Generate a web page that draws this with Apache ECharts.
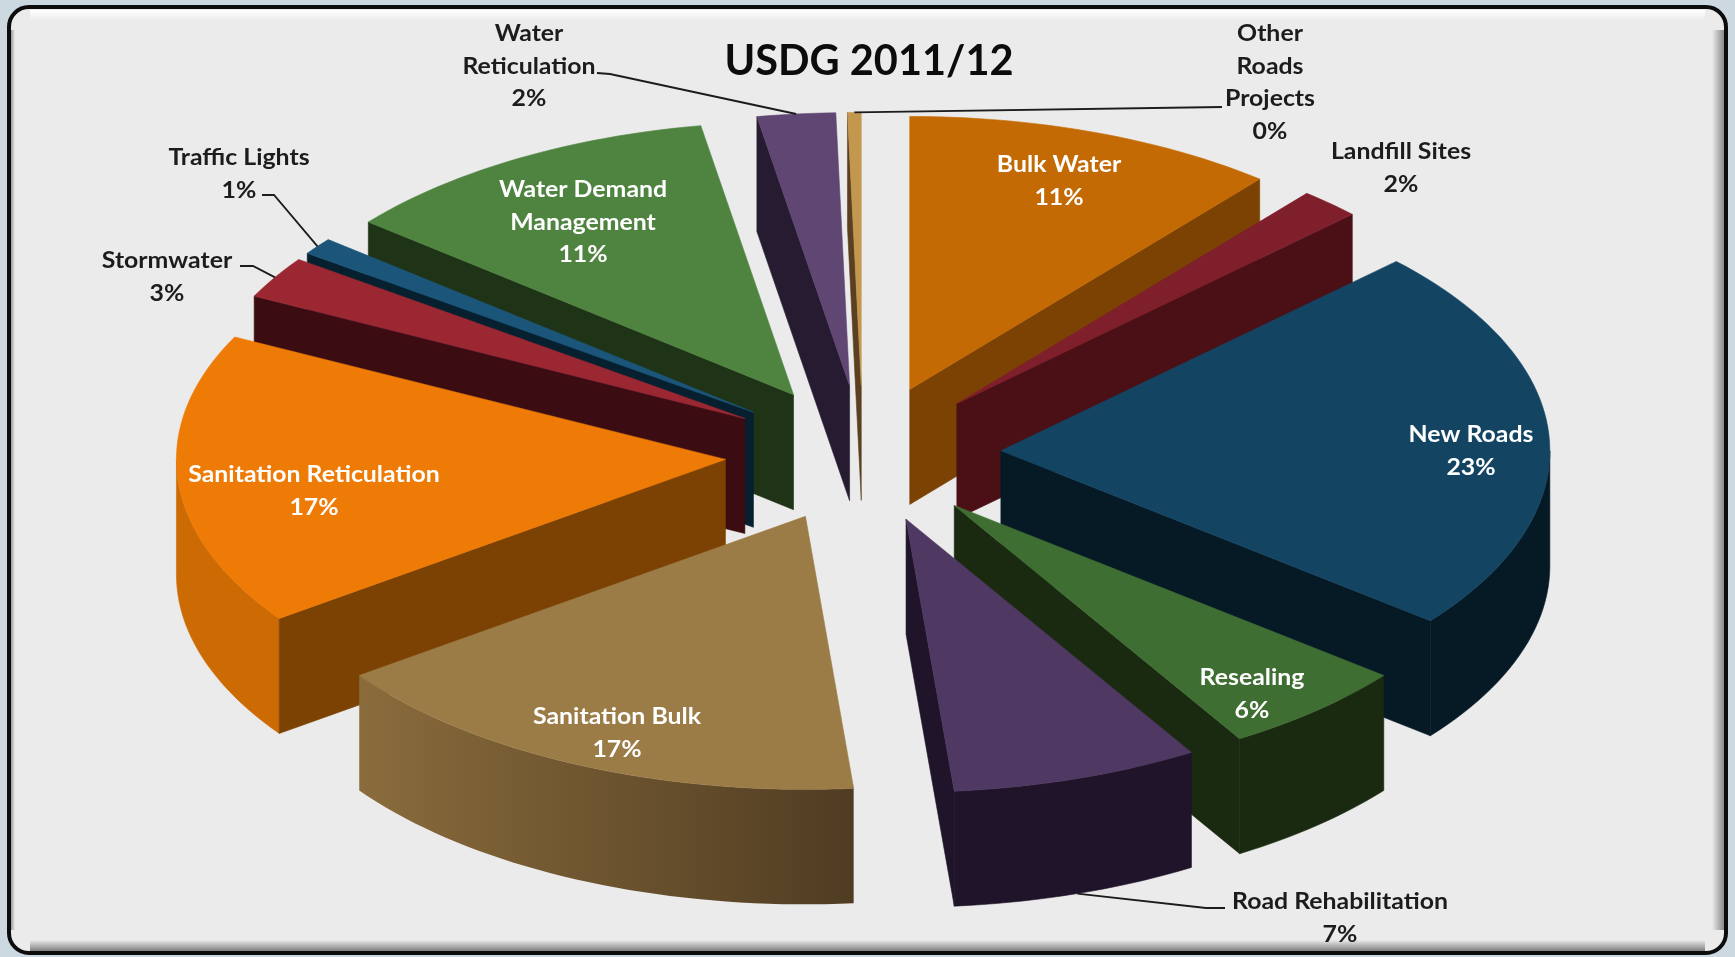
<!DOCTYPE html>
<html>
<head>
<meta charset="utf-8">
<title>USDG 2011/12</title>
<style>html,body{margin:0;padding:0;background:#ccd9e0}#chart{width:1735px;height:957px}</style>
<script src="https://cdn.jsdelivr.net/npm/echarts@6/dist/echarts.min.js"></script>
</head>
<body>
<div id="chart"></div>
<script>
// Project categories and their share of the grant, clockwise from twelve o'clock
const categories = ['Bulk Water', 'Landfill Sites', 'New Roads', 'Resealing', 'Road Rehabilitation',
  'Sanitation Bulk', 'Sanitation Reticulation', 'Stormwater', 'Traffic Lights',
  'Water Demand Management', 'Water Reticulation', 'Other Roads Projects'];
const shares = [11.0, 1.8, 22.9, 5.6, 7.3, 16.5, 17.3, 2.5, 1.0, 11.4, 2.3, 0.4];

const topColours = ['#C46A04', '#7F1F2B', '#134563', '#3F6E33', '#4F3862', '#9C7C46',
  '#EF7B07', '#9B2733', '#1B567A', '#4F8440', '#5F4673', '#C4974F'];
const cutColours = ['#7C4203', '#4A1016', '#061A26', '#1A2A11', '#1F1429', '#4F3C22',
  '#7C4203', '#3B0D13', '#06202F', '#1F3316', '#261B30', '#5A4020'];
const wallLeft = ['#7C4203', '#4A1016', '#061A26', '#1A2A11', '#1F1429', '#8A6C3C',
  '#CC6A04', '#3B0D13', '#06202F', '#1F3316', '#261B30', '#5A4020'];
const wallRight = ['#7C4203', '#4A1016', '#061A26', '#1A2A11', '#1F1429', '#4F3C22',
  '#CC6A04', '#3B0D13', '#06202F', '#1F3316', '#261B30', '#5A4020'];

// Label wrapping and placement: [line breaks, centre x, first line y, text colour]
const DARK = '#1c1c1c', WHITE = '#ffffff';
const labelPlacement = [
  [['Bulk Water'], 1059, 165, WHITE],
  [['Landfill Sites'], 1401, 152, DARK],
  [['New Roads'], 1471, 435, WHITE],
  [['Resealing'], 1252, 678, WHITE],
  [['Road Rehabilitation'], 1340, 902, DARK],
  [['Sanitation Bulk'], 617, 717, WHITE],
  [['Sanitation Reticulation'], 314, 475, WHITE],
  [['Stormwater'], 167, 261, DARK],
  [['Traffic Lights'], 239, 158, DARK],
  [['Water Demand', 'Management'], 583, 190, WHITE],
  [['Water', 'Reticulation'], 529, 34, DARK],
  [['Other', 'Roads', 'Projects'], 1270, 34, DARK]
];
// Leader line knees, from the label towards its slice
const leaderKnees = {
  'Road Rehabilitation': [[1225, 908], [1206, 908]],
  'Stormwater': [[240, 266], [253, 266]],
  'Traffic Lights': [[262, 195], [274, 195]],
  'Water Reticulation': [[597, 73], [610, 74]],
  'Other Roads Projects': [[1222, 107]]
};

// Shape of the tilted pie
const CX = 863, CY = 454, RX = 549, RY = 273, DEPTH = 115, EXPLODE = 138, TILT = RY / RX;
const LINE_HEIGHT = 32.5, TEXT_STRETCH = 1.08;
const total = shares.reduce((a, b) => a + b, 0);

const rad = d => d * Math.PI / 180;
const sweep = [];
shares.reduce((run, v, i) => {
  sweep[i] = { from: run / total * 360, to: (run + v) / total * 360 };
  return run + v;
}, 0);

function apexOf(i) {
  const mid = rad((sweep[i].from + sweep[i].to) / 2);
  return [CX + EXPLODE * Math.sin(mid), CY - EXPLODE * TILT * Math.cos(mid)];
}
function rimPoint(i, deg, drop) {
  const a = apexOf(i), t = rad(deg);
  return [a[0] + RX * Math.sin(t), a[1] - RY * Math.cos(t) + (drop || 0)];
}
function arc(i, from, to, drop) {
  const n = Math.max(2, Math.ceil((to - from) / 1.5));
  const pts = [];
  for (let k = 0; k <= n; k++) pts.push(rimPoint(i, from + (to - from) * k / n, drop));
  return pts;
}
const face = (points, fill) => ({
  type: 'polygon',
  shape: { points },
  style: { fill, stroke: typeof fill === 'string' ? fill : null, lineWidth: 0.6 }
});

function renderSlice(params, api) {
  const i = api.value(0);
  const { from, to } = sweep[i];
  const a = apexOf(i), below = [a[0], a[1] + DEPTH];
  const children = [];

  // Curved outer wall, only on the half facing the viewer
  const wFrom = Math.max(from, 90), wTo = Math.min(to, 270);
  if (wTo > wFrom) {
    const upper = arc(i, wFrom, wTo, 0), lower = arc(i, wFrom, wTo, DEPTH);
    const xs = upper.map(p => p[0]);
    children.push(face(upper.concat(lower.reverse()), wallLeft[i] === wallRight[i] ? wallLeft[i] : {
      type: 'linear', global: true, x: Math.min(...xs), y: 0, x2: Math.max(...xs), y2: 0,
      colorStops: [{ offset: 0, color: wallLeft[i] }, { offset: 1, color: wallRight[i] }]
    }));
  }
  // Flat cut faces, visible when they turn towards the viewer
  if (Math.sin(rad(to)) > 0) {
    children.push(face([a, rimPoint(i, to), rimPoint(i, to, DEPTH), below], cutColours[i]));
  }
  if (Math.sin(rad(from)) < 0) {
    children.push(face([a, rimPoint(i, from), rimPoint(i, from, DEPTH), below], cutColours[i]));
  }
  // Top surface
  children.push(face([a].concat(arc(i, from, to, 0)), topColours[i]));
  return { type: 'group', children };
}

function renderLabel(params, api) {
  const i = api.value(0);
  const [lines, x, y, colour] = labelPlacement[i];
  const rows = lines.concat(Math.round(shares[i]) + '%');
  const children = rows.map((t, r) => ({
    type: 'text',
    x, y: y + r * LINE_HEIGHT, scaleX: TEXT_STRETCH,
    style: {
      text: t, x: 0, y: 0, fill: colour, align: 'center', verticalAlign: 'middle',
      font: 'bold 23px Lato, "Open Sans", sans-serif'
    }
  }));
  const knees = leaderKnees[categories[i]];
  if (knees) {
    const mid = (sweep[i].from + sweep[i].to) / 2;
    const onFront = categories[i] === 'Road Rehabilitation';
    const end = rimPoint(i, mid, onFront ? DEPTH : 0);
    children.push({
      type: 'polyline',
      shape: { points: knees.concat([end]) },
      style: { fill: null, stroke: '#1c1c1c', lineWidth: 1.8 }
    });
  }
  return { type: 'group', children };
}

// Paint the slices from the back of the pie to the front
const paintOrder = categories.map((_, i) => i).sort((p, q) => apexOf(p)[1] - apexOf(q)[1]);

const edgeShade = (shape, x2, y2, from, to) => ({
  type: 'rect', silent: true, shape,
  style: {
    fill: { type: 'linear', x: 0, y: 0, x2, y2, colorStops: [{ offset: 0, color: from }, { offset: 1, color: to }] }
  }
});

const chart = echarts.init(document.getElementById('chart'), null, { renderer: 'canvas' });
chart.setOption({
  animation: false,
  backgroundColor: '#ccd9e0',
  title: {
    text: 'USDG 2011/12', left: 864, top: 57, textAlign: 'center', textVerticalAlign: 'middle',
    textStyle: { fontFamily: 'Lato, "Open Sans", sans-serif', fontWeight: 'bold', fontSize: 41.5, color: '#0c0c0c' }
  },
  graphic: [
    { type: 'rect', silent: true, shape: { x: 9, y: 7, width: 1717, height: 946, r: 20 },
      style: { fill: '#ebebeb', stroke: '#0d0d0d', lineWidth: 4 } },
    edgeShade({ x: 30, y: 10, width: 1675, height: 10 }, 0, 1, '#ffffff', '#ebebeb'),
    edgeShade({ x: 1712, y: 30, width: 12, height: 900 }, 1, 0, '#ebebeb', '#8a8a8a'),
    edgeShade({ x: 30, y: 940, width: 1675, height: 11 }, 0, 1, '#ebebeb', '#7e7e7e'),
    edgeShade({ x: 11, y: 30, width: 4, height: 900 }, 1, 0, '#9a9a9a', '#ebebeb')
  ],
  series: [
    {
      type: 'custom', coordinateSystem: 'none', silent: true, z: 3,
      data: paintOrder.map(i => [i]),
      renderItem: renderSlice
    },
    {
      type: 'custom', coordinateSystem: 'none', silent: true, z: 4,
      data: categories.map((_, i) => [i]),
      renderItem: renderLabel
    }
  ]
});
</script>
</body>
</html>
